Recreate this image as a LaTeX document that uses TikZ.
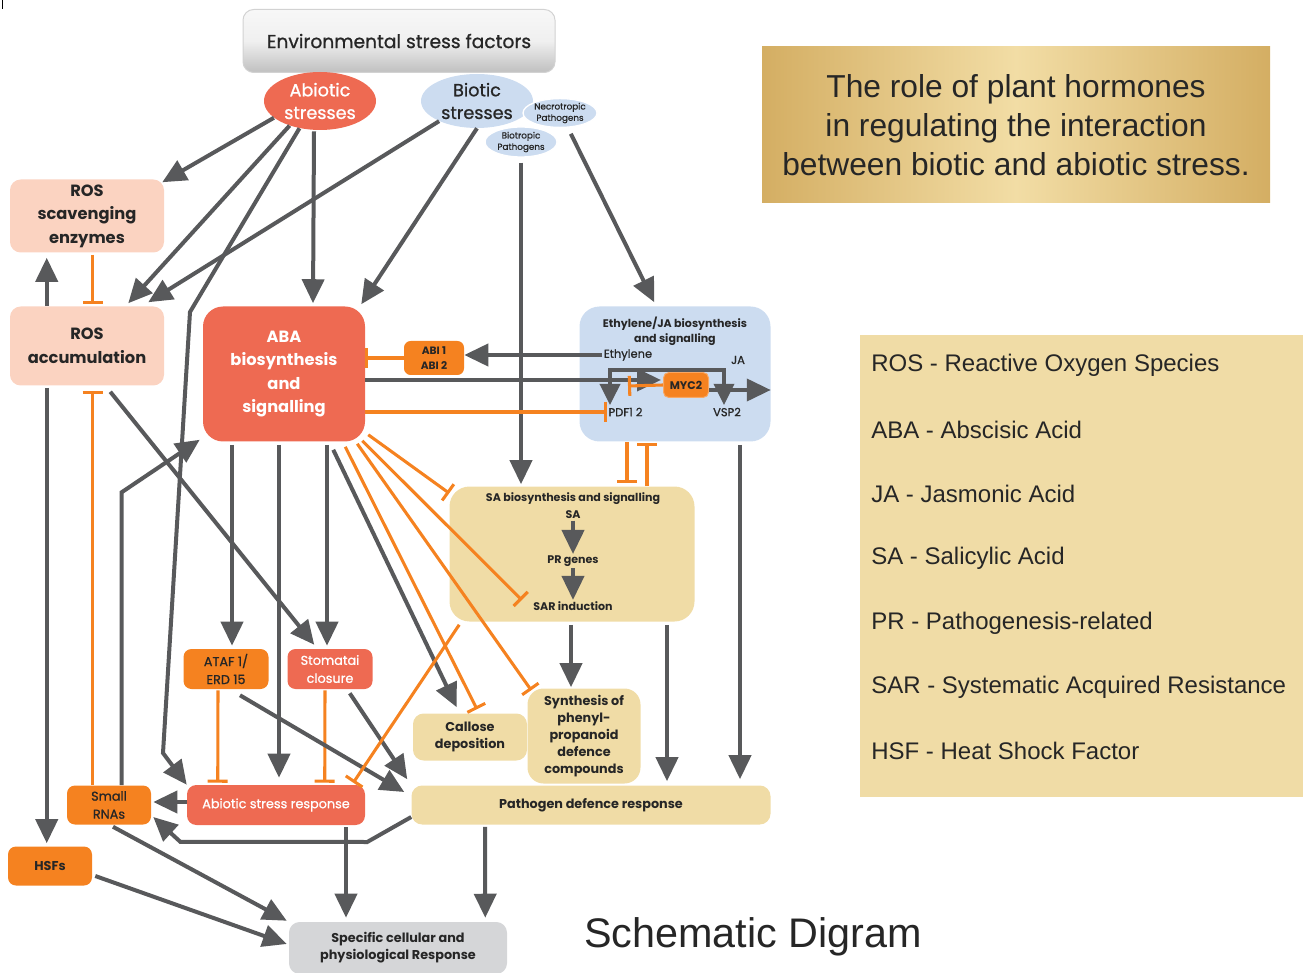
\documentclass[tikz,border=0pt]{standalone}
\usepackage{fontspec}
\setmainfont{Liberation Sans}
\newfontfamily\gf{Poppins}
\newfontfamily\gfm{Poppins}[FakeBold=0.9]
\usetikzlibrary{arrows.meta,calc,shapes.geometric}
\newcommand\setfs[2]{\fontsize{#1}{#2}\selectfont}

\definecolor{dg}{HTML}{58595B}
\definecolor{org}{HTML}{F58220}
\definecolor{tom}{HTML}{EE6A52}
\definecolor{peach}{HTML}{FBD3C1}
\definecolor{lblue}{HTML}{CCDCF0}
\definecolor{beige}{HTML}{F0DCA6}
\definecolor{lgray}{HTML}{D5D6D8}
\definecolor{goldA}{HTML}{D4AE63}
\definecolor{goldB}{HTML}{F2DDA5}
\definecolor{ink}{HTML}{262626}

\tikzset{
  arr/.style={draw=dg, line width=3pt, -{Triangle[length=18pt,width=16.5pt]}},
  arrboth/.style={draw=dg, line width=3pt, {Triangle[length=16pt,width=15pt]}-{Triangle[length=16pt,width=15pt]}},
  inh/.style={draw=org, line width=2.3pt, -{Bar[width=15pt]}},
  sz/.style 2 args={minimum width=#1*0.75pt, minimum height=#2*0.75pt},
  bx/.style={rounded corners=8pt, align=center, inner sep=0pt, text=ink},
  lbl/.style={inner sep=1pt, text=ink, font=\gfm\setfs{8.6}{11}},
  lblb/.style={inner sep=1pt, text=ink, font=\gf\bfseries\setfs{8.3}{11}},
  legtext/.style={anchor=west, inner sep=0pt, text=ink, font=\setfs{18}{21}},
}

\begin{document}
\begin{tikzpicture}[x=0.75pt,y=-0.75pt]
\useasboundingbox (0,0) rectangle (1303,973);
\draw[black, line width=0.75pt] (2,0) -- (2,9);

% ---------- stress sources ----------
\node[bx, sz={312}{63}, top color=gray!6, bottom color=gray!50, middle color=gray!12,
      draw=gray!35, line width=0.75pt, font=\gfm\setfs{14}{17}] (env) at (399,41)
      {Environmental stress factors};
\node[ellipse, fill=tom, sz={112}{58}, inner sep=0pt, align=center, text=white,
      font=\gfm\setfs{13.2}{17}] (abio) at (320,101) {Abiotic\\stresses};
\node[ellipse, fill=lblue, sz={112}{54}, inner sep=0pt, align=center, text=ink,
      font=\gfm\setfs{13.2}{17}] (bio) at (477,101) {Biotic\\stresses};
\node[ellipse, fill=lblue, draw=white, line width=1pt, sz={72}{30}, inner sep=0pt,
      align=center, text=ink, font=\gfm\setfs{6.6}{8.5}] (biotro) at (521,142) {Biotropic\\Pathogens};
\node[ellipse, fill=lblue, draw=white, line width=1pt, sz={74}{28}, inner sep=0pt,
      align=center, text=ink, font=\gfm\setfs{6.6}{8.5}] (necro) at (560,113) {Necrotropic\\Pathogens};

% ---------- ROS ----------
\node[bx, fill=peach, sz={154}{73}, font=\gf\bfseries\setfs{12.2}{17.6}] (rosS) at (87,216)
      {ROS\\scavenging\\enzymes};
\node[bx, fill=peach, sz={154}{79}, font=\gf\bfseries\setfs{12.2}{17.6}] (rosA) at (87,346)
      {ROS\\accumulation};

% ---------- ABA ----------
\node[bx, fill=tom, sz={162}{135}, rounded corners=15pt, text=white,
      font=\gf\bfseries\setfs{12.2}{17.6}] (aba) at (284,374)
      {ABA\\biosynthesis\\and\\signalling};
\node[bx, fill=org, sz={60}{34}, rounded corners=5pt, font=\gf\bfseries\setfs{8}{11}] (abi) at (434,358)
      {ABI 1\\ABI 2};

% ---------- Ethylene / JA ----------
\node[bx, fill=lblue, sz={191}{135}, rounded corners=15pt] (eth) at (675,374) {};
\node[lblb, align=center] (ethT) at (675,331) {Ethylene/JA biosynthesis\\and signalling};
\node[lbl] (ethL) at (628,355) {Ethylene};
\node[lbl] (ja) at (738,360) {JA};
\node[lbl, anchor=west] (pdf) at (607,412) {PDF1 2};
\node[lbl] (vsp) at (727,412) {VSP2};
\node[bx, fill=org, draw=org!70!white, line width=0.75pt, sz={45}{25}, rounded corners=4pt,
      font=\gf\bfseries\setfs{8.3}{10}] (myc) at (686,385) {MYC2};

% ---------- SA ----------
\node[bx, fill=beige, sz={245}{135}, rounded corners=15pt] (sa) at (572,554) {};
\node[lblb] (saT) at (573,499) {SA biosynthesis and signalling};
\node[lblb] (saS) at (573,515) {SA};
\node[lblb] (pr) at (573,561) {PR genes};
\node[lblb] (sar) at (573,606) {SAR induction};

% ---------- responses ----------
\node[bx, fill=org, sz={85}{40}, rounded corners=6pt, font=\gfm\setfs{9.6}{13.5}] (ataf) at (226,669)
      {ATAF 1/\\ERD 15};
\node[bx, fill=tom, sz={85}{40}, rounded corners=6pt, text=white, font=\gfm\setfs{9.6}{13.5}] (stom) at (330,669)
      {Stomatai\\closure};
\node[bx, fill=beige, sz={114}{47}, rounded corners=8pt, font=\gf\bfseries\setfs{9.6}{12.8}] (call) at (470,737)
      {Callose\\deposition};
\node[bx, fill=beige, sz={113}{95}, rounded corners=12pt, font=\gf\bfseries\setfs{9.6}{12.8}] (syn) at (584,736)
      {Synthesis of\\phenyl-\\propanoid\\defence\\compounds};
\node[bx, fill=org, sz={84}{39}, rounded corners=6pt, font=\gfm\setfs{9.6}{13.5}] (small) at (109,805)
      {Small\\RNAs};
\node[bx, fill=tom, sz={178}{40}, rounded corners=7pt, text=white, font=\gfm\setfs{9.6}{12}] (asr) at (276,805)
      {Abiotic stress response};
\node[bx, fill=beige, sz={359}{39}, rounded corners=8pt, font=\gf\bfseries\setfs{9.6}{12}] (pdr) at (591,805)
      {Pathogen defence response};
\node[bx, fill=org, sz={84}{39}, rounded corners=6pt, font=\gf\bfseries\setfs{9.6}{12}] (hsf) at (50,866)
      {HSFs};
\node[bx, fill=lgray, sz={218}{52}, rounded corners=8pt, font=\gf\bfseries\setfs{9.6}{12.8}] (spec) at (398,948)
      {Specific cellular and\\physiological Response};

% ---------- title, legend, caption ----------
\node[sz={508}{156}, left color=goldA, right color=goldA, middle color=goldB, align=center,
      text=ink, font=\setfs{23.8}{29}] (title) at (1016,125)
      {The role of plant hormones\\in regulating the interaction\\between biotic and abiotic stress.};
\node[fill=beige, sz={443}{462}] (leg) at (1081.5,566) {};
\node[legtext] (lg1) at (871,365) {ROS - Reactive Oxygen Species};
\node[legtext] (lg2) at (871,430) {ABA - Abscisic Acid};
\node[legtext] (lg3) at (871,494) {JA - Jasmonic Acid};
\node[legtext] (lg4) at (871,558) {SA - Salicylic Acid};
\node[legtext] (lg5) at (871,623) {PR - Pathogenesis-related};
\node[legtext] (lg6) at (871,687) {SAR - Systematic Acquired Resistance};
\node[legtext] (lg7) at (871,751) {HSF - Heat Shock Factor};
\node[text=ink, font=\setfs{31}{36}] (cap) at (753,937) {Schematic Digram};

% ---------- connectors from the stress sources ----------
\draw[arr] (abio.200) -- ($(rosS.north east)+(-2,3)$);
\draw[arr] (abio.219) -- ($(rosA.north east)+(-36,-3)$);
\draw[arr] (abio.233) -- (190,312) -- (163,753) -- (asr.north west);
\draw[arr] ($(abio.south)+(-6,1)$) -- ($(aba.north)+(29,-3)$);
\draw[arr] (bio.208) -- ($(rosA.north east)+(-16,-4)$);
\draw[arr] (bio.south) -- ($(aba.north east)+(-4,-2)$);
\draw[arr] ($(biotro.south)+(0,5)$) -- ($(biotro.south |- sa.north)+(0,-2)$);
\draw[arr, shorten <=5pt] (necro.-62) -- ($(eth.north west)+(75,-4)$);

% ---------- ethylene / JA module ----------
\draw[arr] (ethL.west) -- (ethL.west -| abi.east);
\draw[inh] (abi.west) -- (abi.west -| aba.east);
\draw[arr] ($(aba.east)+(0,6)$) -- ($(myc.west)+(-2,-5)$);
\draw[arr] ($(myc.east)+(0,5)$) -- ($(eth.east)+(0,16)$);
\draw[inh] (myc.west) -- ++(-35,1);
\draw[arrboth] ($(pdf.north west)+(3,-1)$) |- ($(vsp.north)+(-3,-36)$) -- ($(vsp.north)+(-3,-1)$);
\draw[inh] (aba.east |- pdf.west) -- (pdf.west);
\draw[inh] ($(eth.south)+(-48,0)$) -- ($(sa.north)+(55,-3)$);
\draw[inh] ($(sa.north)+(75,0)$) -- ($(eth.south)+(-28,1)$);
\draw[arr] ($(eth.south)+(65,3)$) -- ($(pdr.north)+(149,-6)$);

% ---------- SA module ----------
\draw[arr] (saS.south) -- (pr.north);
\draw[arr] (pr.south) -- (sar.north);
\draw[arr] ($(sa.south)+(-1,3)$) -- ($(syn.north)+(-13,-1)$);
\draw[arr] ($(sa.south)+(95,3)$) -- ($(pdr.north)+(76,-4)$);

% ---------- ABA outputs ----------
\draw[arr] ($(aba.south)+(-52,3)$) -- ($(ataf.north)+(6,-3)$);
\draw[arr] ($(aba.south)+(-5,3)$) -- ($(asr.north)+(3,-7)$);
\draw[arr] ($(aba.south)+(43,3)$) -- ($(stom.north)+(-3,-3)$);
\draw[arr] ($(aba.south east)+(-32,8)$) -- ($(call.north west)+(44,-6)$);
\draw[inh] ($(aba.south east)+(-20,5)$) -- ($(call.north)+(7,-4)$);
\draw[inh] ($(aba.south east)+(-8,2)$) -- ($(syn.north west)+(4,2)$);
\draw[inh] ($(aba.south east)+(-3,-1)$) -- ($(sar.west)+(-10,-6)$);
\draw[inh] ($(aba.south east)+(3,-7)$) -- ($(sa.north west)+(0,7)$);

% ---------- ROS links ----------
\draw[arr] ($(rosA.north west)+(37,0)$) -- ($(rosS.south west)+(37,5)$);
\draw[inh] ($(rosS.south west)+(83,2)$) -- ($(rosA.north west)+(83,-2)$);
\draw[arr] ($(rosA.south west)+(37,2)$) -- ($(hsf.north west)+(39,-3)$);
\draw[inh] ($(small.north west)+(26,0)$) -- ($(rosA.south west)+(83,5)$);
\draw[arr] ($(rosA.south east)+(-54,6)$) -- ($(stom.north west)+(27,-4)$);
\draw[arr] ($(small.north west)+(55,0)$) -- ++(0,-293) -- ($(aba.south west)+(-3,-2)$);

% ---------- lower responses ----------
\draw[inh] ($(ataf.south)+(-8,1)$) -- ($(asr.north west)+(31,-2)$);
\draw[inh] ($(stom.south)+(-5,1)$) -- ($(asr.north west)+(138,-2)$);
\draw[arr] ($(ataf.south)+(14,6)$) -- ($(pdr.west)+(-7,-13)$);
\draw[arr] ($(stom.south east)+(-23,4)$) -- ($(pdr.north west)+(-4,-6)$);
\draw[inh] ($(sa.south west)+(10,3)$) -- ($(asr.north east)+(-12,-2)$);
\draw[arr] ($(asr.west)+(0,-3)$) -- ($(small.east)+(2,-3)$);
\draw[arr] ($(pdr.west)+(0,12)$) -- ++(-44,25) -- ($(small.south east)+(29,17)$) -- ($(small.east)+(2,12)$);
\draw[arr] ($(asr.south)+(70,2)$) -- ($(spec.north)+(-52,-4)$);
\draw[arr] ($(pdr.south)+(-106,2)$) -- ($(spec.north east)+(-22,-4)$);
\draw[arr] ($(small.south)+(4,2)$) -- ($(spec.north west)+(-2,-1)$);
\draw[arr] ($(hsf.east)+(3,10)$) -- ($(spec.west)+(-2,-4)$);
\end{tikzpicture}
\end{document}
